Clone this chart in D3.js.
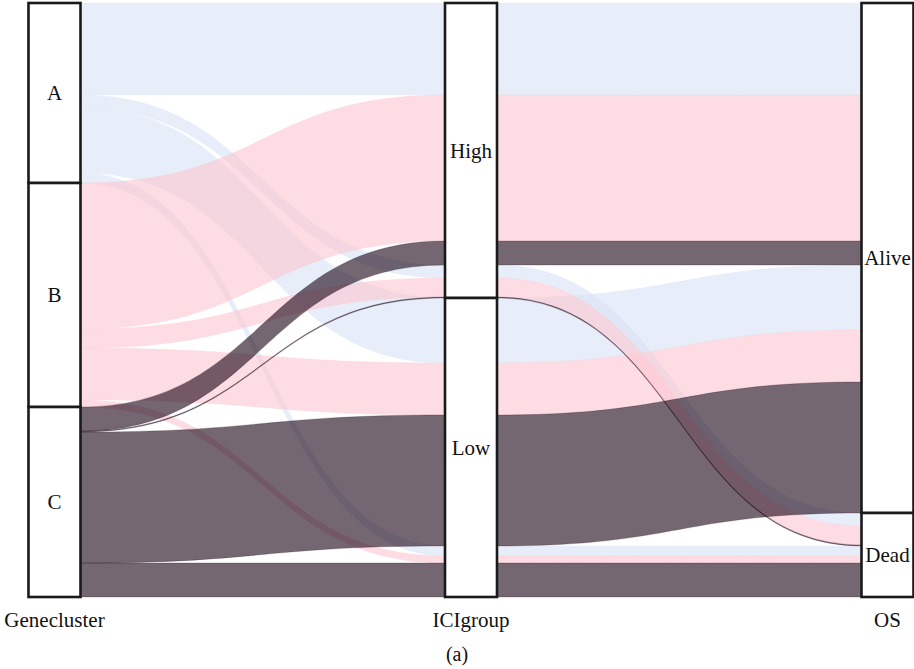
<!DOCTYPE html>
<html><head><meta charset="utf-8">
<script src="https://cdn.jsdelivr.net/npm/d3@7"></script>
<style>body{margin:0;background:#fff}</style>
</head><body><svg id="chart" width="914" height="669"></svg>
<script>
const axes = ["Genecluster", "ICIgroup", "OS"];
const geneclusters = ["A", "B", "C"];
const iciGroups = ["High", "Low"];
const osStatus = ["Alive", "Dead"];
// counts per Genecluster, ordered High-Alive, High-Dead, Low-Alive, Low-Dead
const countsA = [92, 13, 65, 10];
const countsB = [146, 19, 52, 7];
const countsC = [24, 1, 131, 34];
const caption = "(a)";

const countsByGene = [countsA, countsB, countsC];
const fillColors = ["#d9e3f5", "#fcc6d0", "#170212"];
const FONT = "'Times New Roman', 'Liberation Serif', 'DejaVu Serif', serif";

// build alluvia
const alluvia = [];
geneclusters.forEach((g, gi) => {
  iciGroups.forEach((ic, ii) => {
    osStatus.forEach((os, oi) => {
      alluvia.push({g: gi, i: ii, o: oi, n: countsByGene[gi][ii * 2 + oi]});
    });
  });
});
const total = d3.sum(alluvia, d => d.n);

const svg = d3.select("#chart");
const y = d3.scaleLinear().domain([0, total]).range([3, 597]);
const x = d3.scalePoint().domain(axes).range([54.5, 887.5]);
const boxW = 52;

// stacking orders at each axis
const orderKeys = [
  d => [d.g, d.i, d.o],
  d => [d.i, d.o, d.g],
  d => [d.o, d.i, d.g]
];
function cmp(a, b) { for (let k = 0; k < a.length; k++) { if (a[k] !== b[k]) return a[k] - b[k]; } return 0; }
orderKeys.forEach((kf, ai) => {
  const sorted = alluvia.slice().sort((a, b) => cmp(kf(a), kf(b)));
  let acc = 0;
  sorted.forEach(d => {
    d["y0_" + ai] = acc; acc += d.n; d["y1_" + ai] = acc;
  });
});

// flows
const flowG = svg.append("g");
for (let ai = 0; ai < 2; ai++) {
  const x0 = x(axes[ai]) + boxW / 2, x1 = x(axes[ai + 1]) - boxW / 2, xm = (x0 + x1) / 2;
  alluvia.slice().sort((a, b) => a.g - b.g).forEach(d => {
    const a0 = y(d["y0_" + ai]), a1 = y(d["y1_" + ai]);
    const b0 = y(d["y0_" + (ai + 1)]), b1 = y(d["y1_" + (ai + 1)]);
    const p = `M${x0},${a0}C${xm},${a0} ${xm},${b0} ${x1},${b0}L${x1},${b1}C${xm},${b1} ${xm},${a1} ${x0},${a1}Z`;
    flowG.append("path").attr("d", p)
      .attr("fill", fillColors[d.g]).attr("fill-opacity", 0.6)
      .attr("stroke", fillColors[d.g]).attr("stroke-opacity", 0.35).attr("stroke-width", 0.6);
  });
}

// strata
const strataLists = [geneclusters, iciGroups, osStatus];
const keyIdx = ["g", "i", "o"];
const strataG = svg.append("g");
axes.forEach((ax, ai) => {
  let acc = 0;
  strataLists[ai].forEach((lab, si) => {
    const n = d3.sum(alluvia.filter(d => d[keyIdx[ai]] === si), d => d.n);
    const top = y(acc), bot = y(acc + n);
    acc += n;
    strataG.append("rect").attr("x", x(ax) - boxW / 2).attr("y", top)
      .attr("width", boxW).attr("height", bot - top)
      .attr("fill", "#fff").attr("stroke", "#1a1a1a").attr("stroke-width", 2.6);
    strataG.append("text").attr("x", x(ax)).attr("y", (top + bot) / 2).attr("dy", "0.35em")
      .attr("text-anchor", "middle").style("font-family", FONT)
      .attr("font-size", 21).attr("fill", "#111").text(lab);
  });
  svg.append("text").attr("x", x(ax)).attr("y", 627).attr("text-anchor", "middle")
    .style("font-family", FONT).attr("font-size", 21).attr("fill", "#111").text(ax);
});
svg.append("text").attr("x", 457).attr("y", 661).attr("text-anchor", "middle")
  .style("font-family", FONT).attr("font-size", 20).attr("fill", "#111").text(caption);
</script></body></html>
